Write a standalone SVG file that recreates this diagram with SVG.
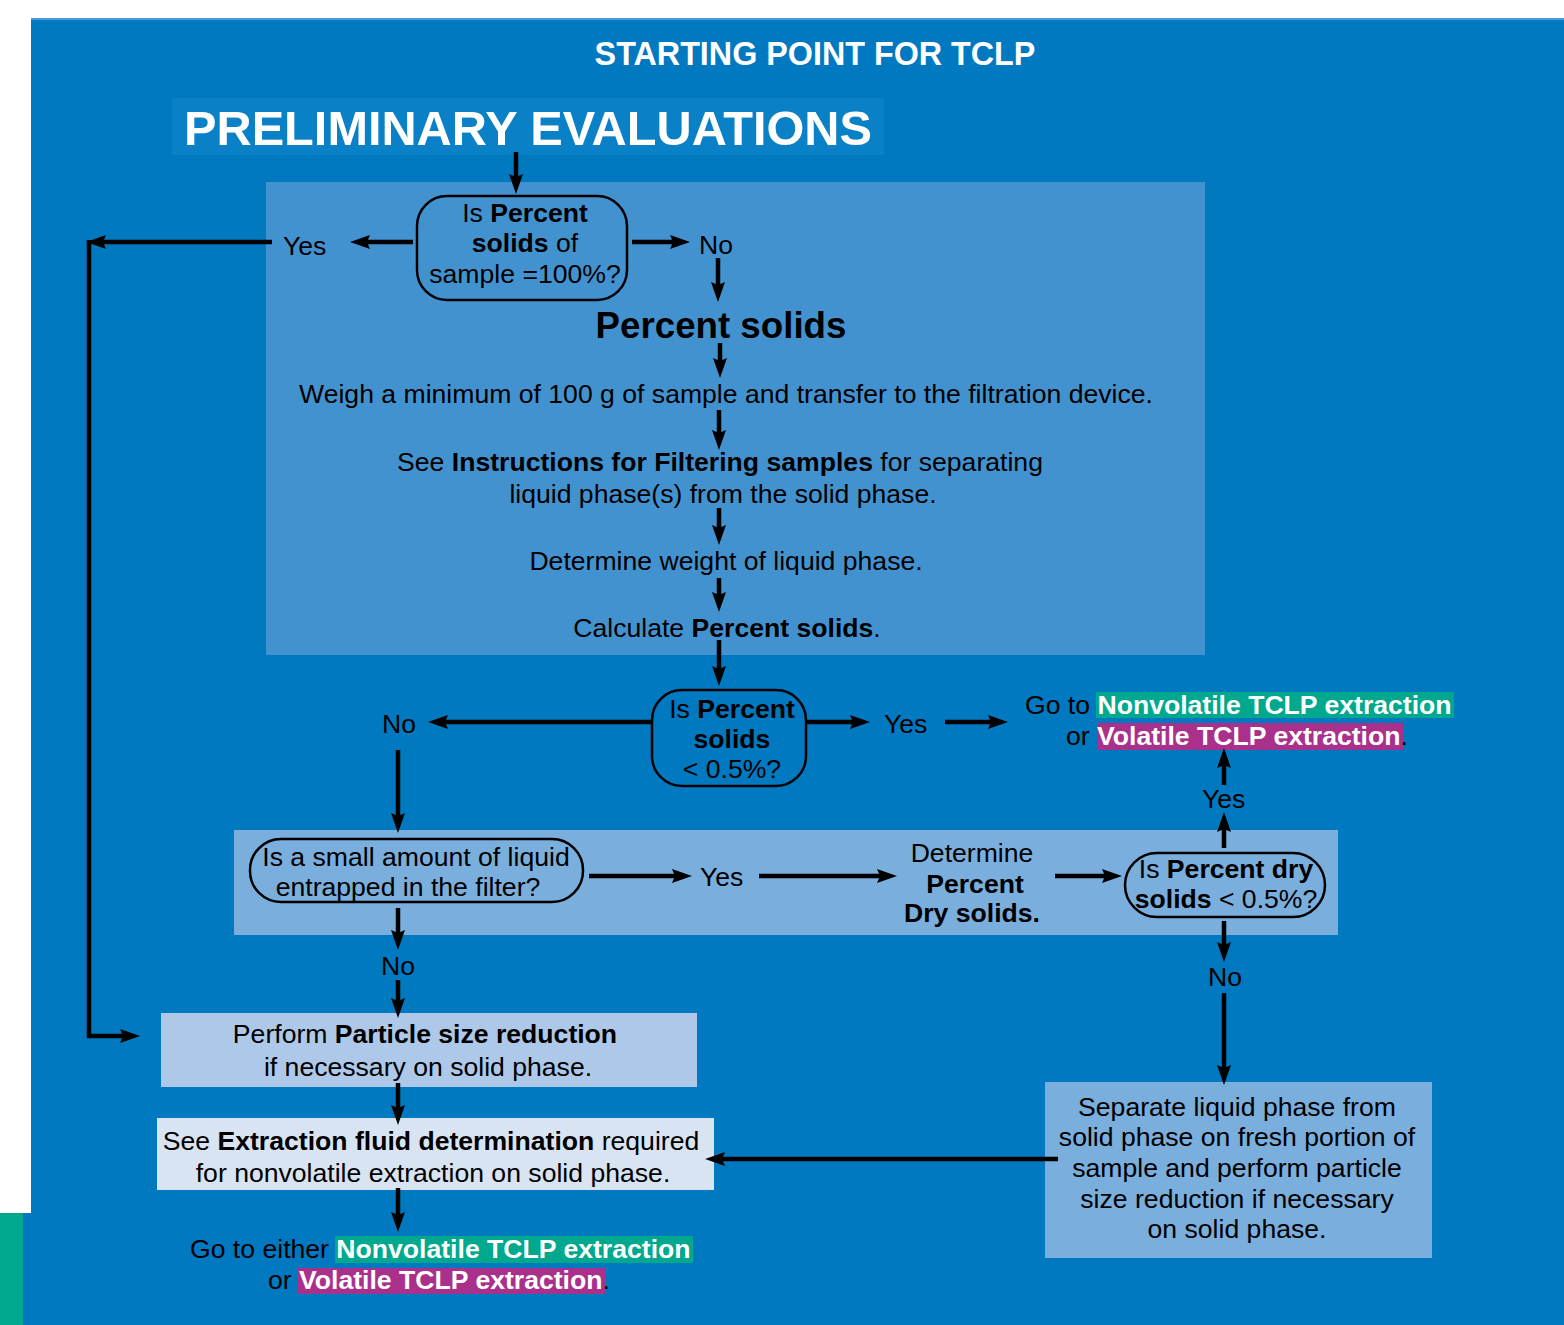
<svg xmlns="http://www.w3.org/2000/svg" width="1564" height="1325" viewBox="0 0 1564 1325">
<defs>
<marker id="ah" viewBox="0 0 20 14" refX="12" refY="7" markerWidth="20" markerHeight="14" orient="auto" markerUnits="userSpaceOnUse"><path d="M0,0 L20,7 L0,14 L3,7 Z" fill="#000"/></marker>
</defs>
<style>
text{font-family:"Liberation Sans",Arial,Helvetica,sans-serif;fill:#000;font-size:26.6px}
.c{text-anchor:middle}
.b{font-weight:bold}
.w{fill:#fff;font-weight:bold}
.dec{fill:none;stroke:#000;stroke-width:2.5}
#connectors line,#connectors path{stroke:#000;stroke-width:4.5;fill:none;marker-end:url(#ah)}
</style>
<rect x="0" y="0" width="1564" height="1325" fill="#fff"/>
<rect x="31" y="18" width="1533" height="1307" fill="#0079C1"/>
<rect x="31" y="18" width="1533" height="2" fill="#4a9ad6"/>
<rect x="0" y="1213" width="23" height="112" fill="#00A88E"/>
<rect x="23" y="1213" width="8" height="112" fill="#0079C1"/>

<g id="title"><text class="c w" x="815" y="65" style="font-size:32.3px">STARTING POINT FOR TCLP</text></g>
<g id="prelim"><rect x="172" y="98" width="712" height="57" fill="#0A80C6"/><text class="c w" x="528" y="145" style="font-size:48.7px">PRELIMINARY EVALUATIONS</text></g>

<g id="box1"><rect x="266" y="182" width="939" height="473" fill="#4392D0"/></g>
<g id="box2"><rect x="234" y="830" width="1104" height="105" fill="#7AAEDD"/></g>

<g id="dec1"><rect class="dec" x="417" y="196" width="210" height="104" rx="30"/>
<text class="c" x="525" y="222">Is <tspan class="b">Percent</tspan></text>
<text class="c" x="525" y="252"><tspan class="b">solids</tspan> of</text>
<text class="c" x="525" y="283">sample =100%?</text></g>

<g id="yes1"><text x="283" y="255">Yes</text></g>
<g id="no1"><text x="699" y="254">No</text></g>

<g id="pshead"><text class="c b" x="721" y="338" style="font-size:36.7px">Percent solids</text></g>
<g id="weigh"><text class="c" x="726" y="403">Weigh a minimum of 100 g of sample and transfer to the filtration device.</text></g>
<g id="filter"><text class="c" x="720" y="471">See <tspan class="b">Instructions for Filtering samples</tspan> for separating</text>
<text class="c" x="723" y="503">liquid phase(s) from the solid phase.</text></g>
<g id="detw"><text class="c" x="726" y="570">Determine weight of liquid phase.</text></g>
<g id="calc"><text class="c" x="727" y="637">Calculate <tspan class="b">Percent solids</tspan>.</text></g>

<g id="dec2"><rect class="dec" x="652" y="690" width="154" height="96" rx="30"/>
<text class="c" x="732" y="718">Is <tspan class="b">Percent</tspan></text>
<text class="c b" x="732" y="748">solids</text>
<text class="c" x="732" y="778">&lt; 0.5%?</text></g>

<g id="no2"><text x="382" y="733">No</text></g>
<g id="yes2"><text x="884" y="733">Yes</text></g>

<g id="goto1">
<rect x="1096" y="692" width="358" height="26" fill="#00A88E"/>
<rect x="1097" y="723" width="306" height="27" fill="#A9318B"/>
<text x="1025" y="714">Go to <tspan class="w">Nonvolatile TCLP extraction</tspan></text>
<text x="1066" y="745">or <tspan class="w">Volatile TCLP extraction</tspan>.</text></g>

<g id="dec3"><rect class="dec" x="250" y="839" width="333" height="63" rx="31"/>
<text class="c" x="416" y="866">Is a small amount of liquid</text>
<text class="c" x="408" y="896">entrapped in the filter?</text></g>

<g id="yes3"><text x="700" y="886">Yes</text></g>
<g id="drysolids"><text class="c" x="972" y="862">Determine</text>
<text class="c b" x="975" y="893">Percent</text>
<text class="c b" x="972" y="922">Dry solids.</text></g>

<g id="dec4"><rect class="dec" x="1125" y="853" width="200" height="64" rx="32"/>
<text class="c" x="1226" y="878">Is <tspan class="b">Percent dry</tspan></text>
<text class="c" x="1226" y="908"><tspan class="b">solids</tspan> &lt; 0.5%?</text></g>

<g id="yes4"><text x="1202" y="808">Yes</text></g>
<g id="no4"><text x="1208" y="986">No</text></g>
<g id="no3"><text x="381" y="975">No</text></g>

<g id="particle"><rect x="161" y="1013" width="536" height="74" fill="#ADC8E9"/>
<text class="c" x="425" y="1043">Perform <tspan class="b">Particle size reduction</tspan></text>
<text class="c" x="428" y="1076">if necessary on solid phase.</text></g>

<g id="extraction"><rect x="157" y="1118" width="557" height="72" fill="#D9E4F3"/>
<text class="c" x="431" y="1150">See <tspan class="b">Extraction fluid determination</tspan> required</text>
<text class="c" x="433" y="1182">for nonvolatile extraction on solid phase.</text></g>

<g id="goto2">
<rect x="335" y="1236" width="358" height="27" fill="#00A88E"/>
<rect x="298" y="1268" width="308" height="26" fill="#A9318B"/>
<text x="190" y="1258">Go to either <tspan class="w">Nonvolatile TCLP extraction</tspan></text>
<text x="268" y="1289">or <tspan class="w">Volatile TCLP extraction</tspan>.</text></g>

<g id="separate"><rect x="1045" y="1082" width="387" height="176" fill="#7AAEDD"/>
<text class="c" x="1237" y="1116">Separate liquid phase from</text>
<text class="c" x="1237" y="1146">solid phase on fresh portion of</text>
<text class="c" x="1237" y="1177">sample and perform particle</text>
<text class="c" x="1237" y="1208">size reduction if necessary</text>
<text class="c" x="1237" y="1238">on solid phase.</text></g>

<g id="connectors">
<line x1="516" y1="152" x2="516" y2="186"/>
<line x1="413" y1="242" x2="358" y2="242"/>
<line x1="272" y1="242" x2="94" y2="242"/>
<path d="M89,240 V1036 H132"/>
<line x1="632" y1="242" x2="682" y2="242"/>
<line x1="718" y1="258" x2="718" y2="294"/>
<line x1="720" y1="343" x2="720" y2="370"/>
<line x1="719" y1="410" x2="719" y2="442"/>
<line x1="719" y1="508" x2="719" y2="537"/>
<line x1="719" y1="578" x2="719" y2="604"/>
<line x1="719" y1="640" x2="719" y2="678"/>
<line x1="652" y1="722" x2="436" y2="722"/>
<line x1="398" y1="750" x2="398" y2="825"/>
<line x1="806" y1="722" x2="862" y2="722"/>
<line x1="945" y1="722" x2="1000" y2="722"/>
<line x1="589" y1="876" x2="684" y2="876"/>
<line x1="759" y1="876" x2="889" y2="876"/>
<line x1="1055" y1="876" x2="1114" y2="876"/>
<line x1="1224" y1="848" x2="1224" y2="820"/>
<line x1="1224" y1="785" x2="1224" y2="756"/>
<line x1="1224" y1="921" x2="1224" y2="954"/>
<line x1="1224" y1="993" x2="1224" y2="1077"/>
<line x1="398" y1="908" x2="398" y2="942"/>
<line x1="398" y1="980" x2="398" y2="1010"/>
<line x1="398" y1="1083" x2="398" y2="1117"/>
<line x1="398" y1="1188" x2="398" y2="1224"/>
<line x1="1058" y1="1159" x2="713" y2="1159"/>
</g>
</svg>
